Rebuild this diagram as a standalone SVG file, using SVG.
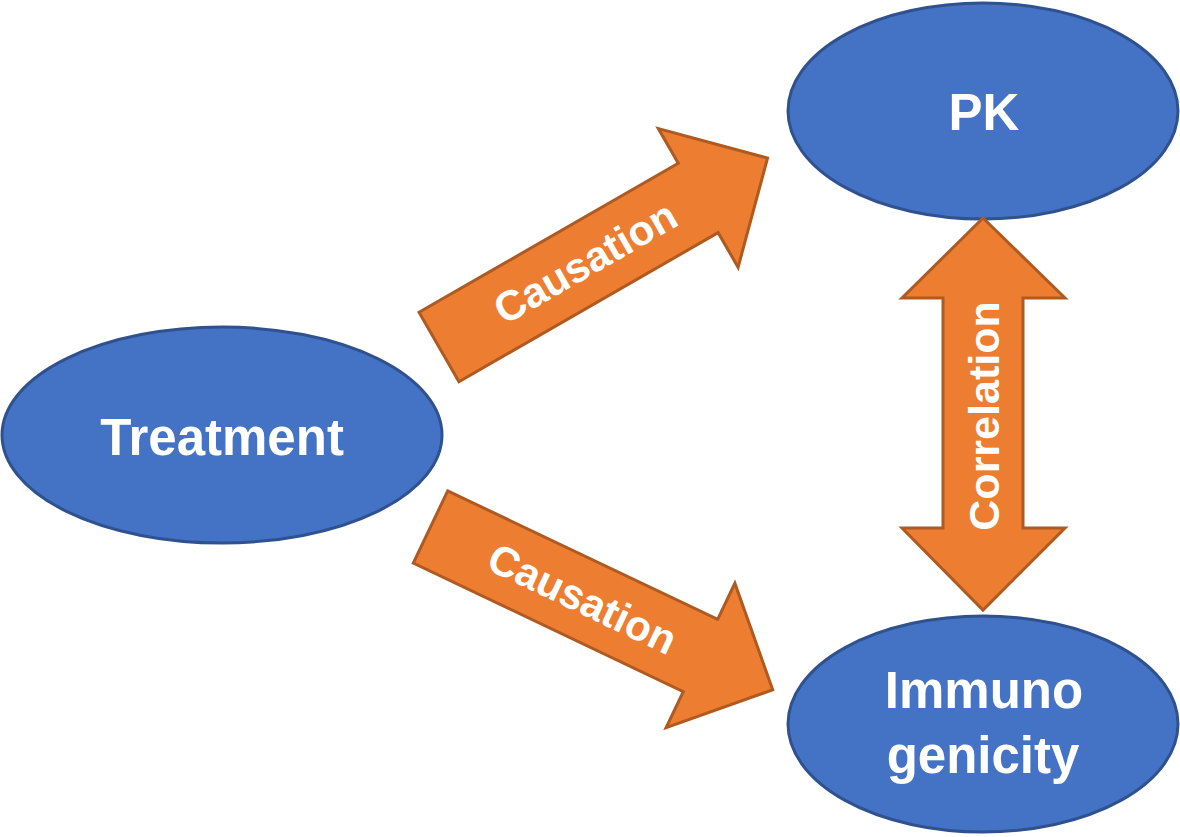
<svg xmlns="http://www.w3.org/2000/svg" width="1180" height="837" viewBox="0 0 1180 837">
  <style>
    .node { fill: #4472C4; stroke: #2F528F; stroke-width: 3; }
    .arrow { fill: #ED7D31; stroke: #AE5A21; stroke-width: 3; stroke-linejoin: miter; }
    .nlabel { font-family: "Liberation Sans", Arial, sans-serif; font-weight: bold; font-size: 51px; fill: #FFFFFF; text-anchor: middle; }
    .alabel { font-family: "Liberation Sans", Arial, sans-serif; font-weight: bold; font-size: 42px; fill: #FFFFFF; text-anchor: middle; }
  </style>
  <defs>
    <path id="blockArrow" d="M0,-40 L299,-40 L299,-80 L379,0 L299,80 L299,40 L0,40 Z"/>
  </defs>
  <rect width="1180" height="837" fill="#FFFFFF"/>

  <g id="node-treatment">
    <ellipse class="node" cx="222" cy="435" rx="220" ry="108"/>
    <text class="nlabel" x="222" y="455">Treatment</text>
  </g>
  <g id="node-pk">
    <ellipse class="node" cx="983" cy="111" rx="195" ry="108"/>
    <text class="nlabel" x="984" y="130">PK</text>
  </g>
  <g id="node-immunogenicity">
    <ellipse class="node" cx="983" cy="724" rx="195" ry="108"/>
    <text class="nlabel" x="984" y="708">Immuno</text>
    <text class="nlabel" x="983" y="773">genicity</text>
  </g>

  <g id="connectors">
    <g id="edge-treatment-pk" transform="translate(439,347) rotate(-29.9)">
      <use href="#blockArrow" class="arrow"/>
      <text class="alabel" x="169" y="14">Causation</text>
    </g>
    <g id="edge-treatment-immuno" transform="translate(430.5,527) rotate(25.45)">
      <use href="#blockArrow" class="arrow"/>
      <text class="alabel" x="168" y="14">Causation</text>
    </g>
    <g id="edge-pk-immuno">
      <path class="arrow" d="M983,218 L1065,298 L1023,298 L1023,528 L1065,528 L983,610 L902,528 L943,528 L943,298 L902,298 Z"/>
      <text class="alabel" transform="translate(983,416) rotate(-90)" x="0" y="16" style="font-size:43px">Correlation</text>
    </g>
  </g>
</svg>
